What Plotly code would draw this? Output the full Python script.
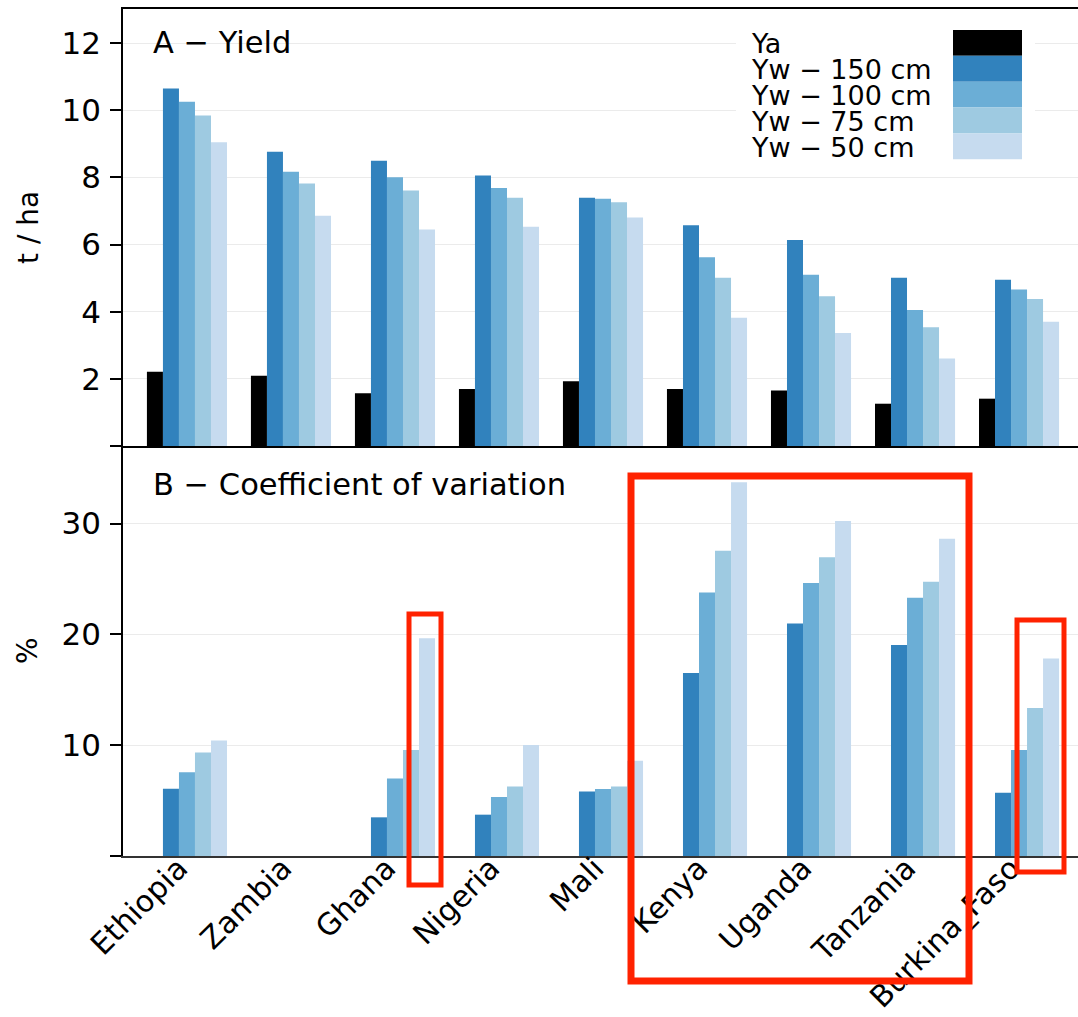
import plotly.graph_objects as go

# ---- data -------------------------------------------------------------
countries = ["Ethiopia", "Zambia", "Ghana", "Nigeria", "Mali",
             "Kenya", "Uganda", "Tanzania", "Burkina_Faso"]

series_names = ["Ya", "Yw \u2212 150 cm", "Yw \u2212 100 cm", "Yw \u2212 75 cm", "Yw \u2212 50 cm"]
series_colors = ["#000000", "#3182bd", "#6baed6", "#9ecae1", "#c6dbef"]

# A - Yield (t / ha)
yield_ya = [2.21, 2.09, 1.57, 1.70, 1.93, 1.70, 1.65, 1.26, 1.41]
yield_yw150 = [10.65, 8.77, 8.50, 8.06, 7.40, 6.58, 6.14, 5.01, 4.95]
yield_yw100 = [10.26, 8.17, 8.01, 7.69, 7.37, 5.62, 5.10, 4.05, 4.66]
yield_yw75 = [9.85, 7.82, 7.61, 7.40, 7.26, 5.01, 4.46, 3.54, 4.38]
yield_yw50 = [9.05, 6.86, 6.45, 6.53, 6.81, 3.82, 3.37, 2.61, 3.70]

# B - Coefficient of variation (%) of water-limited yield
cv_yw150 = [6.07, None, 3.49, 3.73, 5.83, 16.51, 20.99, 19.04, 5.71]
cv_yw100 = [7.55, None, 7.00, 5.32, 6.04, 23.79, 24.64, 23.31, 9.57]
cv_yw75 = [9.35, None, 9.56, 6.28, 6.28, 27.55, 26.95, 24.76, 13.36]
cv_yw50 = [10.43, None, 19.64, 10.02, 8.60, 33.72, 30.23, 28.64, 17.83]

yield_ticks = [0, 2, 4, 6, 8, 10, 12]
cv_ticks = [0, 10, 20, 30]

# ---- geometry ---------------------------------------------------------
W, H = 1078, 1017
ML, MR, MT, MB = 123, 0, 9, 161
PW, PH = W - ML - MR, H - MT - MB
split = 410 / PH  # bottom panel share of plot height

FONT = "DejaVu Sans"
bar_w = 0.154
offsets = [-0.385 + i * bar_w for i in range(5)]


def px(x):
    return (x - ML) / PW


def py(y):
    return (H - MB - y) / PH


fig = go.Figure()

yield_series = [yield_ya, yield_yw150, yield_yw100, yield_yw75, yield_yw50]
for name, color, off, vals in zip(series_names, series_colors, offsets, yield_series):
    fig.add_trace(go.Bar(x=countries, y=vals, name=name, marker_color=color,
                         marker_line_width=0, offset=off, width=bar_w,
                         xaxis="x", yaxis="y", showlegend=False))

cv_series = [cv_yw150, cv_yw100, cv_yw75, cv_yw50]
for name, color, off, vals in zip(series_names[1:], series_colors[1:], offsets[1:], cv_series):
    fig.add_trace(go.Bar(x=countries, y=vals, name=name, marker_color=color,
                         marker_line_width=0, offset=off, width=bar_w,
                         xaxis="x2", yaxis="y2", showlegend=False))

xrange = [-0.615, 8.567]
common_x = dict(type="category", categoryorder="array", categoryarray=countries,
                range=xrange, showgrid=False, zeroline=False, ticks="",
                automargin=False)
common_y = dict(ticks="outside", ticklen=11, tickwidth=1.5, tickcolor="black",
                showline=True, linecolor="black", linewidth=1.5,
                showgrid=True, gridcolor="#ebebeb", gridwidth=1, zeroline=False,
                tickfont=dict(family=FONT, size=31, color="black"),
                ticklabelstandoff=3, automargin=False)

fig.update_layout(
    width=W, height=H,
    margin=dict(l=ML, r=MR, t=MT, b=MB, autoexpand=False),
    paper_bgcolor="white", plot_bgcolor="white",
    barmode="overlay",
    font=dict(family=FONT, color="black"),
    xaxis=dict(common_x, domain=[0, 1], anchor="y", showticklabels=False,
               showline=True, linecolor="black", linewidth=2, mirror=True),
    yaxis=dict(common_y, domain=[split, 1], anchor="x", range=[0, 13.02],
               tickvals=yield_ticks,
               ticktext=["" if t == 0 else str(t) for t in yield_ticks]),
    xaxis2=dict(common_x, domain=[0, 1], anchor="y2", showticklabels=True,
                tickangle=-45, showline=True, linecolor="#333333", linewidth=1.5,
                ticklabelstandoff=-19, ticklabelshift=-8,
                tickfont=dict(family=FONT, size=30, color="black")),
    yaxis2=dict(common_y, domain=[0, split], anchor="x2", range=[0, 37],
                tickvals=cv_ticks,
                ticktext=["" if t == 0 else str(t) for t in cv_ticks]),
)

annotations = []
shapes = []

# axis titles
annotations.append(dict(text="t / ha", x=px(28), y=py(228), xref="paper", yref="paper",
                        showarrow=False, textangle=-90, font=dict(size=28),
                        xanchor="center", yanchor="middle"))
annotations.append(dict(text="%", x=px(27), y=py(651), xref="paper", yref="paper",
                        showarrow=False, textangle=-90, font=dict(size=28),
                        xanchor="center", yanchor="middle"))

# panel titles
annotations.append(dict(text="A \u2212 Yield", x=px(151), y=py(43), xref="paper", yref="paper",
                        showarrow=False, font=dict(size=30.5), xanchor="left", yanchor="middle"))
annotations.append(dict(text="B \u2212 Coefficient of variation", x=px(151), y=py(484),
                        xref="paper", yref="paper", showarrow=False, font=dict(size=30.5),
                        xanchor="left", yanchor="middle"))

# legend: labels on the left, colour keys stacked on the right
shapes.append(dict(type="rect", xref="paper", yref="paper",
                   x0=px(736), x1=px(1035), y0=py(18), y1=py(170),
                   fillcolor="white", line=dict(width=0), layer="above"))
key_top, key_h = 30.0, 25.85
for i, (name, color) in enumerate(zip(series_names, series_colors)):
    y0 = key_top + i * key_h
    shapes.append(dict(type="rect", xref="paper", yref="paper",
                       x0=px(953), x1=px(1022), y0=py(y0), y1=py(y0 + key_h),
                       fillcolor=color, line=dict(width=0), layer="above"))
    annotations.append(dict(text=name, x=px(749), y=py(y0 + key_h / 2 + 1),
                            xref="paper", yref="paper", showarrow=False,
                            font=dict(size=27), xanchor="left", yanchor="middle"))

# red highlight frames
red = "#ff2200"
frames = [
    (631, 969, 476, 981, 7),
    (409, 441, 614, 885, 5),
    (1017, 1064, 620, 872, 5),
]
for x0, x1, y0, y1, lw in frames:
    shapes.append(dict(type="rect", xref="paper", yref="paper",
                       x0=px(x0), x1=px(x1), y0=py(y0), y1=py(y1),
                       line=dict(color=red, width=lw), fillcolor="rgba(0,0,0,0)",
                       layer="above"))

fig.update_layout(annotations=annotations, shapes=shapes)

fig.write_html("out.html")
